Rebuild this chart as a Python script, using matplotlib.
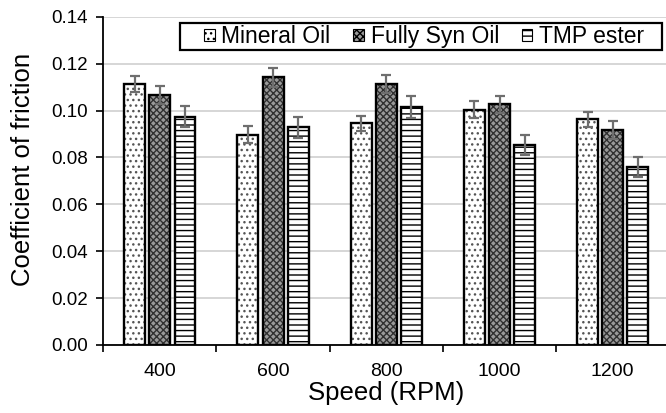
import numpy as np
import matplotlib.pyplot as plt
from matplotlib.patches import Patch, Rectangle

plt.rcParams['font.family'] = ['Liberation Sans', 'DejaVu Sans']
plt.rcParams['hatch.linewidth'] = 1.0

speeds = ['400', '600', '800', '1000', '1200']
series = ['Mineral Oil', 'Fully Syn Oil', 'TMP ester']
mineral = [0.1113, 0.0898, 0.0946, 0.1003, 0.0963]
fully = [0.1068, 0.1142, 0.1113, 0.1027, 0.0918]
tmp = [0.0974, 0.0929, 0.1017, 0.0854, 0.0760]
mineral_err = [0.0035, 0.0037, 0.0033, 0.0036, 0.0033]
fully_err = [0.0038, 0.0040, 0.0038, 0.0037, 0.0039]
tmp_err = [0.0045, 0.0045, 0.0047, 0.0044, 0.0042]

values = [mineral, fully, tmp]
errors = [mineral_err, fully_err, tmp_err]
hatches = ['...', 'xxxxx', '---']
hatch_colors = ['#555555', '#303030', 'black']
faces = ['white', '#9a9a9a', 'white']

fig = plt.figure(figsize=(6.66, 4.13), dpi=100)
ax = fig.add_axes([0.155, 0.165, 0.85, 0.794])

x = np.arange(len(speeds))
width = 0.185
step = 0.222
for i in range(3):
    pos = x + (i - 1) * step
    # hatched fill, then black outline on top
    ax.bar(pos, values[i], width, color=faces[i], edgecolor=hatch_colors[i],
           hatch=hatches[i], linewidth=0, zorder=2)
    ax.bar(pos, values[i], width, fill=False, edgecolor='black', linewidth=1.7,
           zorder=3)
    ax.errorbar(pos, values[i], yerr=errors[i], fmt='none', ecolor='#6e6e6e',
                elinewidth=1.6, capsize=3.8, capthick=1.6, zorder=4)

# legend: no own frame, box drawn separately (wide side padding like Excel)
handles = [Patch(facecolor=faces[i], edgecolor='black', hatch=hatches[i],
                 linewidth=0.8) for i in range(3)]
leg = fig.legend(handles, series, loc='center', ncol=3, fontsize=16.5,
                 frameon=False, handlelength=0.45, handleheight=0.45,
                 handletextpad=0.3, columnspacing=1.0, borderpad=0,
                 bbox_to_anchor=(0.637, 0.9116))
fig.patches.append(Rectangle((0.2703, 0.8789), 0.7237, 0.0654,
                             transform=fig.transFigure, fill=False,
                             edgecolor='black', linewidth=1.6, zorder=5))

yt = np.arange(0, 0.141, 0.02)
ax.set_ylim(0, 0.14)
ax.set_yticks(yt)
ax.set_yticklabels(['%.2f' % v for v in yt], fontsize=13.5)
ax.set_xlim(-0.5, len(speeds) - 0.5)
ax.set_xticks(x)
ax.set_xticklabels(speeds, fontsize=14)
ax.set_xticks(np.arange(-0.5, len(speeds), 1), minor=True)
ax.tick_params(axis='x', which='major', length=0, pad=13)
ax.tick_params(axis='x', which='minor', length=5, width=1.2, direction='out')
ax.tick_params(axis='y', length=5, width=1.2, direction='out', pad=6)

ax.yaxis.grid(True, color='#d0d0d0', linewidth=1.2)
ax.set_axisbelow(True)
for s in ['top', 'right']:
    ax.spines[s].set_visible(False)
for s in ['left', 'bottom']:
    ax.spines[s].set_linewidth(1.3)

ax.set_ylabel('Coefficient of friction', fontsize=18.5)
ax.yaxis.set_label_coords(-0.12, 0.534)
ax.set_xlabel('Speed (RPM)', fontsize=18.5, labelpad=1)

plt.savefig('out.png', dpi=100)
